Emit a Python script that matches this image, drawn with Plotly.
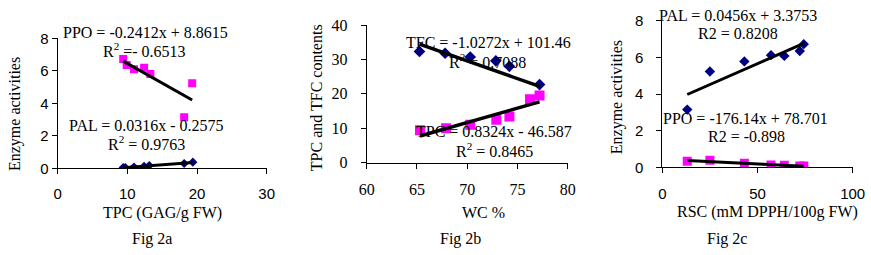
import numpy as np
import plotly.graph_objects as go

W, H = 871, 255

# ---------------- data ----------------
# Fig 2a : enzyme activities vs TPC
a_ppo_x = [9.4, 9.9, 10.95, 12.4, 13.3, 19.3, 18.15]
a_ppo_y = [6.73, 6.36, 6.09, 6.19, 5.80, 5.23, 3.14]
a_pal_x = [9.4, 9.7, 10.95, 12.4, 13.15, 18.15, 19.4]
a_pal_y = [0.05, 0.05, 0.08, 0.12, 0.17, 0.30, 0.38]
a_ppo_fit = (-0.2412, 8.8615)
a_pal_fit = (0.0316, -0.2575)

# Fig 2b : TPC and TFC vs WC %
b_tfc_x = [65.25, 67.8, 70.3, 72.85, 74.2, 77.2]
b_tfc_y = [32.3, 31.8, 30.7, 29.6, 28.0, 22.7]
b_tpc_x = [65.3, 67.9, 70.3, 72.9, 74.2, 76.25, 77.2]
b_tpc_y = [9.4, 10.0, 11.0, 12.5, 13.4, 18.4, 19.5]
b_tfc_fit = (-1.0272, 101.46)
b_tpc_fit = (0.8324, -46.587)

# Fig 2c : enzyme activities vs RSC
c_pal_x = [13.1, 25.0, 43.1, 57.1, 64.1, 72.2, 74.3]
c_pal_y = [3.15, 5.23, 5.78, 6.12, 6.08, 6.35, 6.72]
c_ppo_x = [13.1, 25.0, 43.1, 57.1, 64.1, 72.2, 74.3]
c_ppo_y = [0.33, 0.38, 0.22, 0.13, 0.11, 0.07, 0.07]
c_pal_fit = (0.0456, 3.3753)

# axis ticks
a_xticks = [0, 10, 20, 30]
a_yticks = [0, 2, 4, 6, 8]
b_xticks = [60, 65, 70, 75, 80]
b_yticks = [0, 10, 20, 30, 40]
c_xticks = [0, 50, 100]
c_yticks = [0, 2, 4, 6, 8]

NAVY = "#000080"
MAG = "#FF00FF"
SERIF = "Liberation Serif"
SANS = "Liberation Sans"


def px(x):
    return x / W


def py(y):
    return 1 - y / H


def line_pts(xs, coef):
    x0, x1 = min(xs), max(xs)
    return [x0, x1], [coef[0] * x0 + coef[1], coef[0] * x1 + coef[1]]


def polyline(xs, ys):
    k, b = np.polyfit(xs, ys, 1)
    return line_pts(xs, (k, b))


fig = go.Figure()

# ---- panel a ----
fig.add_trace(go.Scatter(x=a_ppo_x, y=a_ppo_y, mode="markers", xaxis="x", yaxis="y",
                         marker=dict(symbol="square", color=MAG, size=8)))
fig.add_trace(go.Scatter(x=a_pal_x, y=a_pal_y, mode="markers", xaxis="x", yaxis="y",
                         marker=dict(symbol="diamond", color=NAVY, size=7)))
lx, ly = line_pts(a_ppo_x, a_ppo_fit)
fig.add_trace(go.Scatter(x=lx, y=ly, mode="lines", xaxis="x", yaxis="y",
                         line=dict(color="black", width=3)))
lx, ly = line_pts(a_pal_x, a_pal_fit)
fig.add_trace(go.Scatter(x=lx, y=ly, mode="lines", xaxis="x", yaxis="y",
                         line=dict(color="black", width=3)))

# ---- panel b ----
fig.add_trace(go.Scatter(x=b_tfc_x, y=b_tfc_y, mode="markers", xaxis="x2", yaxis="y2",
                         marker=dict(symbol="diamond", color=NAVY, size=9)))
fig.add_trace(go.Scatter(x=b_tpc_x, y=b_tpc_y, mode="markers", xaxis="x2", yaxis="y2",
                         marker=dict(symbol="square", color=MAG, size=10)))
lx, ly = line_pts(b_tfc_x, b_tfc_fit)
fig.add_trace(go.Scatter(x=lx, y=ly, mode="lines", xaxis="x2", yaxis="y2",
                         line=dict(color="black", width=3.5)))
lx, ly = line_pts(b_tpc_x, b_tpc_fit)
fig.add_trace(go.Scatter(x=lx, y=ly, mode="lines", xaxis="x2", yaxis="y2",
                         line=dict(color="black", width=3.5)))

# ---- panel c ----
fig.add_trace(go.Scatter(x=c_pal_x, y=c_pal_y, mode="markers", xaxis="x3", yaxis="y3",
                         marker=dict(symbol="diamond", color=NAVY, size=8)))
fig.add_trace(go.Scatter(x=c_ppo_x, y=c_ppo_y, mode="markers", xaxis="x3", yaxis="y3",
                         marker=dict(symbol="square", color=MAG, size=9)))
lx, ly = line_pts(c_pal_x, c_pal_fit)
fig.add_trace(go.Scatter(x=lx, y=ly, mode="lines", xaxis="x3", yaxis="y3",
                         line=dict(color="black", width=3)))
lx, ly = polyline(c_ppo_x, c_ppo_y)
fig.add_trace(go.Scatter(x=lx, y=ly, mode="lines", xaxis="x3", yaxis="y3",
                         line=dict(color="black", width=3)))


def ax(dom, rng, ticks, font, standoff, anchor):
    return dict(domain=dom, range=rng, tickvals=ticks, showgrid=False, zeroline=False,
                showline=True, linecolor="black", linewidth=1, ticks="outside",
                ticklen=5, tickcolor="black", tickfont=font, ticklabelstandoff=standoff,
                fixedrange=True, automargin=False, anchor=anchor)


sans_tick = dict(family=SANS, size=15, color="black")
serif_tick = dict(family=SERIF, size=16, color="black")

fig.update_layout(
    width=W, height=H, margin=dict(l=0, r=0, t=0, b=0, autoexpand=False),
    paper_bgcolor="white", plot_bgcolor="white", showlegend=False,
    xaxis=ax([px(57.7), px(266.7)], [0, 30], a_xticks, sans_tick, 7, "y"),
    yaxis=ax([py(168.3), py(38.3)], [0, 8], a_yticks, sans_tick, 0, "x"),
    xaxis2=ax([px(366.7), px(567.7)], [60, 80], b_xticks, serif_tick, 7, "y2"),
    yaxis2=ax([py(162.7), py(25)], [0, 40], b_yticks, serif_tick, 10, "x2"),
    xaxis3=ax([px(662.3), px(852.7)], [0, 100], c_xticks, sans_tick, 8, "y3"),
    yaxis3=ax([py(167.3), py(20.7)], [0, 8], c_yticks, sans_tick, 10, "x3"),
)

anns = [
    # panel a
    ("PPO = -0.2412x + 8.8615", 145, 32.3, 0),
    ("R<sup>2</sup> =- 0.6513", 144, 50, 0),
    ("PAL = 0.0316x - 0.2575", 146, 125, 0),
    ("R<sup>2</sup> = 0.9763", 146, 143, 0),
    ("Enzyme activities", 15, 114, -90),
    ("TPC (GAG/g FW)", 162.5, 213, 0),
    ("Fig 2a", 152, 239, 0),
    # panel b
    ("TFC = -1.0272x + 101.46", 488, 42.7, 0),
    ("R<sup>2</sup> = 0.7088", 487.5, 61, 0),
    ("TPC = 0.8324x - 46.587", 493.7, 131.7, 0),
    ("R<sup>2</sup> = 0.8465", 494, 150, 0),
    ("TPC and TFC contents", 316.7, 97.5, -90),
    ("WC %", 483, 212, 0),
    ("Fig 2b", 460.5, 239, 0),
    # panel c
    ("PAL = 0.0456x + 3.3753", 737.5, 15.7, 0),
    ("R2 = 0.8208", 737.5, 33.3, 0),
    ("PPO = -176.14x + 78.701", 745.5, 118.3, 0),
    ("R2 = -0.898", 746, 136, 0),
    ("Enzyme activities", 616.7, 97.5, -90),
    ("RSC (mM DPPH/100g FW)", 767.5, 212, 0),
    ("Fig 2c", 726.7, 239, 0),
]
for text, x, y, ang in anns:
    fig.add_annotation(text=text, x=px(x), y=py(y), xref="paper", yref="paper",
                       xanchor="center", yanchor="middle", showarrow=False,
                       textangle=ang, font=dict(family=SERIF, size=16, color="black"))

fig.write_html("out.html", config={"displayModeBar": False},
               post_script="document.body.style.margin='0';document.body.style.overflow='hidden';")
